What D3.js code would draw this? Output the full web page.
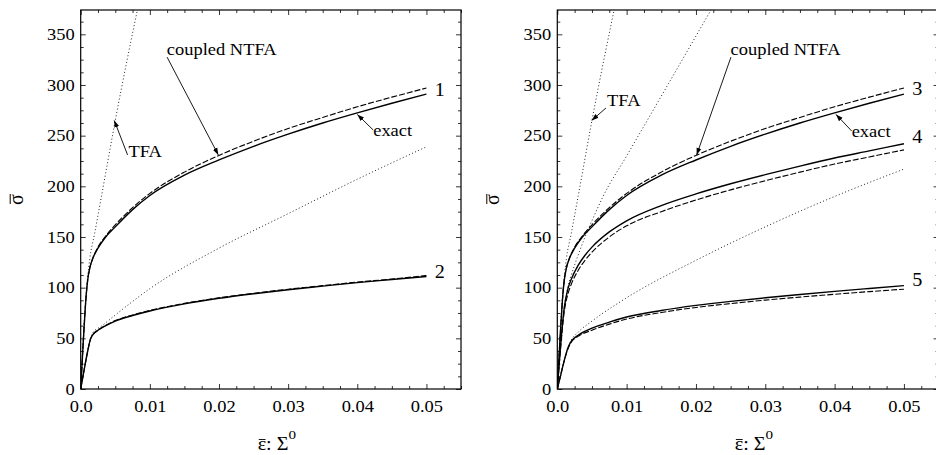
<!DOCTYPE html>
<html>
<head>
<meta charset="utf-8">
<script src="https://cdn.jsdelivr.net/npm/d3@7"></script>
<style>
body { margin: 0; background: #fff; }
svg { display: block; }
text { font-family: "Liberation Serif", "Times New Roman", serif; fill: #000; }
</style>
</head>
<body>
<div id="chart"></div>
<script>
// axis ticks
var xTicks = [0, 0.01, 0.02, 0.03, 0.04, 0.05]
var xTickLabels = ['0.0', '0.01', '0.02', '0.03', '0.04', '0.05']
var yTicks = [0, 50, 100, 150, 200, 250, 300, 350]

// left panel: curves 1 and 2  [strain, stress]
var exact1 = [[0,0],[0.0004,50],[0.0008,93],[0.001,107],[0.0013,119],[0.0017,128],[0.0025,139],[0.0035,149],[0.005,160],[0.0075,177],[0.01,191],[0.015,211],[0.02,226],[0.025,239.5],[0.03,251.5],[0.035,262.5],[0.04,272.5],[0.045,282],[0.05,291]]
var ntfa1  = [[0,0],[0.0004,50],[0.0008,93],[0.001,107],[0.0013,119],[0.0017,128],[0.0025,140],[0.0035,150],[0.005,162],[0.0075,179],[0.01,193],[0.015,214],[0.02,230.5],[0.025,244.5],[0.03,257],[0.035,268],[0.04,278.5],[0.045,288],[0.05,297]]
var tfa1   = [[0,0],[0.0008,95],[0.0013,128],[0.002,153],[0.003,190],[0.005,265],[0.0085,384]]
var exact2 = [[0,0],[0.0005,19],[0.001,37],[0.0014,49],[0.0018,54],[0.0025,58],[0.0035,62],[0.005,67],[0.0075,72.5],[0.01,77],[0.015,84],[0.02,89.5],[0.025,94],[0.03,98],[0.035,101.5],[0.04,105],[0.045,108],[0.05,111]]
var ntfa2  = [[0,0],[0.0005,19],[0.001,37],[0.0014,49],[0.0018,54],[0.0025,58],[0.0035,62.5],[0.005,67.5],[0.0075,73],[0.01,77.5],[0.015,84.5],[0.02,90],[0.025,94.5],[0.03,98.5],[0.035,102],[0.04,105.5],[0.045,108.5],[0.05,112]]
var tfa2   = [[0,0],[0.0005,19],[0.001,37],[0.0014,49],[0.0017,55],[0.003,62],[0.005,73],[0.01,99],[0.02,139],[0.03,173],[0.04,207],[0.05,239]]

// right panel: curves 3, 4 and 5
var exact3 = [[0,0],[0.0004,50],[0.0008,93],[0.001,107],[0.0013,119],[0.0017,128],[0.0025,139],[0.0035,149],[0.005,160],[0.0075,177],[0.01,191],[0.015,211],[0.02,226],[0.025,239.5],[0.03,251.5],[0.035,262.5],[0.04,272.5],[0.045,282],[0.05,291]]
var ntfa3  = [[0,0],[0.0004,50],[0.0008,93],[0.001,107],[0.0013,119],[0.0017,128],[0.0025,140],[0.0035,150],[0.005,162],[0.0075,179],[0.01,193],[0.015,214],[0.02,230.5],[0.025,244.5],[0.03,257],[0.035,268],[0.04,278.5],[0.045,288],[0.05,297]]
var tfa3   = [[0,0],[0.0008,95],[0.0013,128],[0.002,153],[0.003,190],[0.005,265],[0.0085,384]]
var exact4 = [[0,0],[0.0005,45],[0.001,80],[0.0015,98],[0.002,108],[0.003,122],[0.004,132],[0.005,140],[0.0075,155],[0.01,166],[0.015,181],[0.02,192.5],[0.025,202.5],[0.03,211.5],[0.035,220],[0.04,228],[0.045,235],[0.05,242]]
var ntfa4  = [[0,0],[0.0005,42],[0.001,76],[0.0015,93],[0.002,103],[0.003,117],[0.004,127],[0.005,135],[0.0075,150],[0.01,161],[0.015,175],[0.02,186.5],[0.025,196.5],[0.03,205.5],[0.035,214],[0.04,222],[0.045,229],[0.05,236]]
var tfa4   = [[0,0],[0.0005,45],[0.001,80],[0.0015,100],[0.002,112],[0.003,132],[0.004,150],[0.005,166],[0.0066,190],[0.01,230],[0.015,289],[0.0225,378]]
var exact5 = [[0,0],[0.0005,14],[0.001,28],[0.0015,40],[0.002,47],[0.003,53],[0.005,60],[0.0075,66],[0.01,71],[0.015,77.5],[0.02,82.5],[0.025,86.5],[0.03,90],[0.035,93.2],[0.04,96.3],[0.045,99.2],[0.05,102]]
var ntfa5  = [[0,0],[0.0005,14],[0.001,28],[0.0015,39],[0.002,46],[0.003,52],[0.005,58],[0.0075,64],[0.01,69],[0.015,75.5],[0.02,80.5],[0.025,84.3],[0.03,87.7],[0.035,90.7],[0.04,93.5],[0.045,96.1],[0.05,98.5]]
var tfa5   = [[0,0],[0.0005,14],[0.001,28],[0.0015,40],[0.002,48],[0.003,56],[0.005,67],[0.01,90],[0.02,127],[0.03,160],[0.04,190],[0.05,217]]

// annotations in data units: label start, arrow tail, arrow head
var notesLeft = [
	{text:'coupled NTFA', tx:0.01245, ty:329.6, ax:0.01249, ay:327.5, hx:0.0199, hy:231},
	{text:'TFA',          tx:0.0069,  ty:229,   ax:0.00678, ay:231,   hx:0.00485, hy:265},
	{text:'exact',        tx:0.0423,  ty:249.7, ax:0.0423,  ay:255.6, hx:0.0400, hy:271}
]
var notesRight = [
	{text:'coupled NTFA', tx:0.0250,  ty:329.6, ax:0.02505, ay:327.5, hx:0.0201, hy:231},
	{text:'TFA',          tx:0.00717, ty:279.3, ax:0.00702, ay:277.3, hx:0.00496, hy:265},
	{text:'exact',        tx:0.04246, ty:249,   ax:0.04246, ay:254.6, hx:0.0402, hy:271}
]
var numLeft  = [{text:'1', x:0.0512, y:289}, {text:'2', x:0.0512, y:109.5}]
var numRight = [{text:'3', x:0.0512, y:290}, {text:'4', x:0.0512, y:242.7}, {text:'5', x:0.0512, y:101.6}]

var W = 936, H = 455
var plotTop = 10, plotBottom = 389
var sx = 1.12   // glyphs in the figure are stretched sideways
var fs = '16.5px'

var svg = d3.select('#chart').append('svg')
	.attr('width', W)
	.attr('height', H)

var defs = svg.append('defs')
defs.append('marker')
	.attr('id', 'arrow')
	.attr('viewBox', '0 0 10 10')
	.attr('refX', 10).attr('refY', 5)
	.attr('markerWidth', 7).attr('markerHeight', 7)
	.attr('markerUnits', 'userSpaceOnUse')
	.attr('orient', 'auto')
	.append('path').attr('d', 'M0,1.5L10,5L0,8.5Z').attr('fill', '#000')

function drawPanel(id, left, right, curves, notes, nums) {
	var x = d3.scaleLinear().domain([0, 0.055]).range([left, right])
	var y = d3.scaleLinear().domain([0, 374]).range([plotBottom, plotTop])
	var g = svg.append('g').attr('id', id)

	defs.append('clipPath').attr('id', 'clip' + id)
		.append('rect').attr('x', left).attr('y', plotTop)
		.attr('width', right - left).attr('height', plotBottom - plotTop)

	var xMinor = d3.range(0, 0.0551, 0.0025).filter(d => Math.abs(d / 0.01 - Math.round(d / 0.01)) > 1e-6)
	var yMinor = d3.range(0, 375, 12.5).filter(d => d % 50 !== 0)

	// ticks on all four sides, pointing in
	function ticks(axis, tr, vals, size, labels) {
		var a = g.append('g').attr('transform', tr)
			.call(axis.tickValues(vals).tickSize(size).tickSizeOuter(0))
		a.select('.domain').remove()
		a.selectAll('line').attr('stroke', '#000').attr('stroke-width', 0.8)
		if (!labels) a.selectAll('text').remove()
		return a
	}
	var bx = ticks(d3.axisBottom(x).tickFormat((d, i) => xTickLabels[i]), 'translate(0,' + plotBottom + ')', xTicks, -5, true)
	bx.attr('font-family', null)
	bx.selectAll('text').attr('y', 11).attr('dy', '0.71em')
		.style('font-size', fs)
		.attr('transform', 'scale(' + sx + ',1)')
	ticks(d3.axisBottom(x), 'translate(0,' + plotBottom + ')', xMinor, -3, false)
	ticks(d3.axisTop(x), 'translate(0,' + plotTop + ')', xTicks, -5, false)
	ticks(d3.axisTop(x), 'translate(0,' + plotTop + ')', xMinor, -3, false)

	var ly = ticks(d3.axisLeft(y).tickFormat(d3.format('d')), 'translate(' + left + ',0)', yTicks, -5, true)
	ly.attr('font-family', null)
	ly.selectAll('text').attr('x', -6 / sx)
		.style('font-size', fs)
		.attr('transform', 'scale(' + sx + ',1)')
	ticks(d3.axisLeft(y), 'translate(' + left + ',0)', yMinor, -3, false)
	ticks(d3.axisRight(y), 'translate(' + right + ',0)', yTicks, -5, false)
	ticks(d3.axisRight(y), 'translate(' + right + ',0)', yMinor, -3, false)

	// frame
	g.append('rect').attr('x', left).attr('y', plotTop)
		.attr('width', right - left).attr('height', plotBottom - plotTop)
		.attr('fill', 'none').attr('stroke', '#000').attr('stroke-width', 1.2)

	var line = d3.line().x(d => x(d[0])).y(d => y(d[1])).curve(d3.curveMonotoneX)
	var lines = g.append('g').attr('clip-path', 'url(#clip' + id + ')')
	curves.forEach(c => {
		var p = lines.append('path').datum(c.data)
			.attr('d', line).attr('fill', 'none')
		if (c.type === 'tfa') p.attr('stroke', '#222').attr('stroke-width', 1).attr('stroke-dasharray', '1,2.4')
		if (c.type === 'ntfa') p.attr('stroke', '#000').attr('stroke-width', 1.1).attr('stroke-dasharray', '6,2')
		if (c.type === 'exact') p.attr('stroke', '#000').attr('stroke-width', 1.4)
	})

	notes.forEach(n => {
		g.append('line')
			.attr('x1', x(n.ax)).attr('y1', y(n.ay))
			.attr('x2', x(n.hx)).attr('y2', y(n.hy))
			.attr('stroke', '#000').attr('stroke-width', 0.9)
			.attr('marker-end', 'url(#arrow)')
		g.append('text')
			.attr('transform', 'translate(' + x(n.tx) + ',' + y(n.ty) + ') scale(' + sx + ',1)')
			.style('font-size', fs)
			.text(n.text)
	})
	nums.forEach(n => {
		g.append('text')
			.attr('transform', 'translate(' + x(n.x) + ',' + y(n.y) + ') scale(' + sx + ',1)')
			.style('font-size', '18px')
			.text(n.text)
	})

	// x title: bar over epsilon drawn from the glyph box
	var cx = (left + right) / 2 + 6
	var xg = g.append('g').attr('transform', 'translate(' + cx + ',450) scale(' + sx + ',1)')
	var xt = xg.append('text')
		.attr('text-anchor', 'middle')
		.style('font-size', '18px')
	xt.append('tspan').text('\u03B5: \u03A3')
	xt.append('tspan').attr('dy', -11).style('font-size', '13.5px').text('0')
	var eb = xt.node().getExtentOfChar(0)
	xg.append('line')
		.attr('x1', eb.x + 1).attr('x2', eb.x + eb.width - 0.5)
		.attr('y1', -10.5).attr('y2', -10.5)
		.attr('stroke', '#000').attr('stroke-width', 0.9)

	// y title: sigma with bar, turned
	var yg = g.append('g')
		.attr('transform', 'translate(' + (left - 58) + ',' + ((plotTop + plotBottom) / 2) + ') rotate(-90)')
	yg.append('text')
		.attr('text-anchor', 'middle')
		.style('font-size', '20px')
		.text('\u03C3')
	yg.append('line')
		.attr('x1', -4.5).attr('x2', 5.5)
		.attr('y1', -12.5).attr('y2', -12.5)
		.attr('stroke', '#000').attr('stroke-width', 1)
}

drawPanel('left', 80.7, 461, [
	{type:'tfa', data:tfa1}, {type:'tfa', data:tfa2},
	{type:'ntfa', data:ntfa1}, {type:'ntfa', data:ntfa2},
	{type:'exact', data:exact1}, {type:'exact', data:exact2}
], notesLeft, numLeft)

drawPanel('right', 557.3, 938.6, [
	{type:'tfa', data:tfa3}, {type:'tfa', data:tfa4}, {type:'tfa', data:tfa5},
	{type:'ntfa', data:ntfa3}, {type:'ntfa', data:ntfa4}, {type:'ntfa', data:ntfa5},
	{type:'exact', data:exact3}, {type:'exact', data:exact4}, {type:'exact', data:exact5}
], notesRight, numRight)
</script>
</body>
</html>
